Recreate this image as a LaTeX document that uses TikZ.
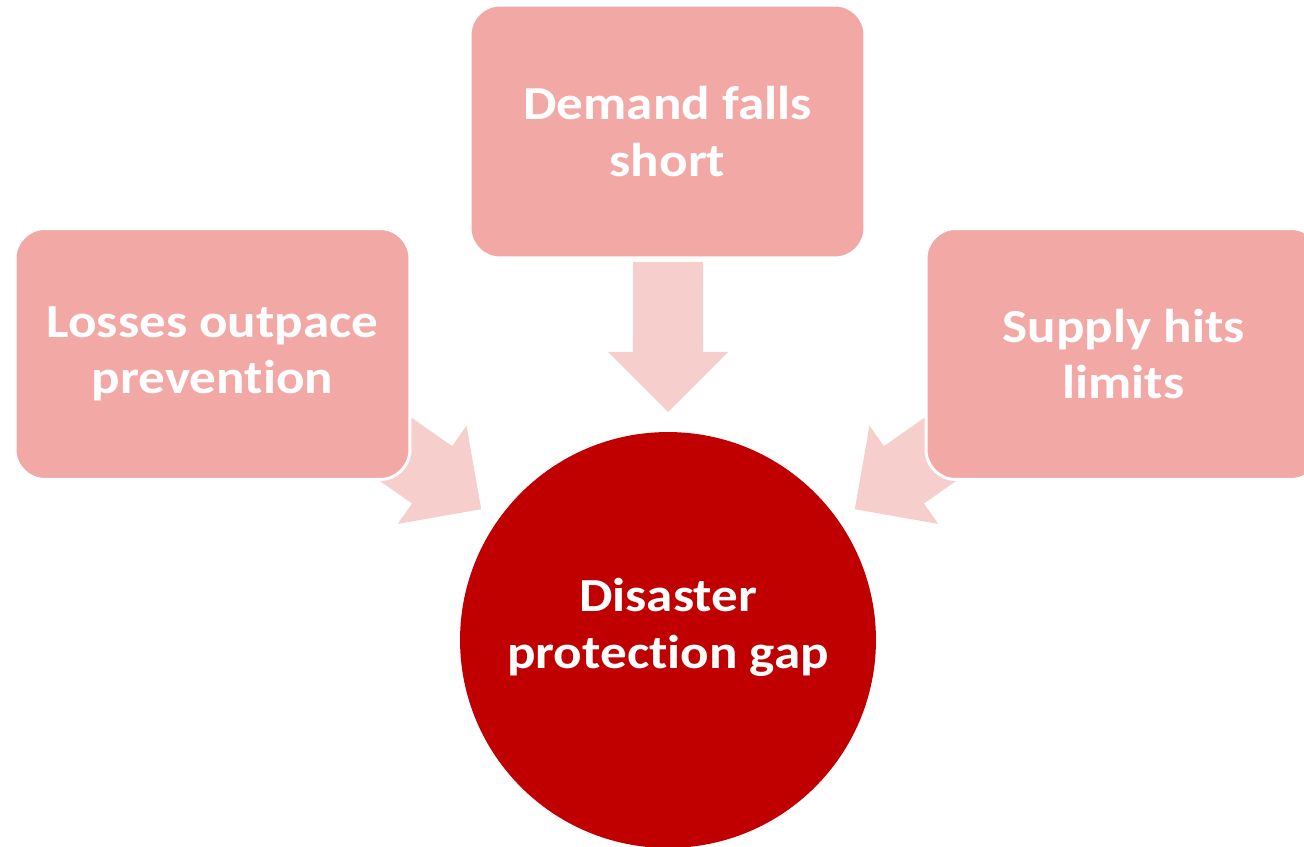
\documentclass[tikz,border=0pt]{standalone}
\usepackage{fontspec}
\setmainfont[FakeStretch=1.12,Ligatures=NoCommon]{Carlito}
\definecolor{boxpink}{RGB}{242,168,165}
\definecolor{arrowpink}{RGB}{246,207,205}
\definecolor{gapred}{RGB}{192,0,0}
\tikzset{
  cause/.style={draw=white,line width=1.7pt,fill=boxpink,rounded corners=17pt,
    minimum width=7.9cm,minimum height=5.02cm,align=center,text=white,
    font=\fontsize{27}{32}\selectfont\bfseries},
  gapnode/.style={circle,fill=gapred,minimum size=8.32cm,align=center,text=white,
    text depth=19pt,font=\fontsize{27}{32}\selectfont\bfseries},
  push/.style={fill=arrowpink}
}
\begin{document}
\begin{tikzpicture}[x=0.02cm,y=0.02cm]
    \useasboundingbox (0,0) rectangle (1304,846);
    \clip (0,0) rectangle (1304,846);
    \node[gapnode] (gap) at (668,206) {Disaster\\protection gap};
    % block arrows pointing at the gap
    \foreach \a in {90,145,35} {
      \fill[push,shift={(gap.center)},rotate=\a] (378,35)--(288,35)--(288,60)--(228,0)--(288,-60)--(288,-35)--(378,-35)--cycle;
    };
    \node[cause,minimum height=5.06cm] (demand) at (667.5,714.5) {Demand falls\\short};
    \node[cause] (losses) at (212.5,492) {Losses outpace\\prevention};
    \node[cause] (supply) at (1123.5,492) {Supply hits\\limits};
\end{tikzpicture}
\end{document}
